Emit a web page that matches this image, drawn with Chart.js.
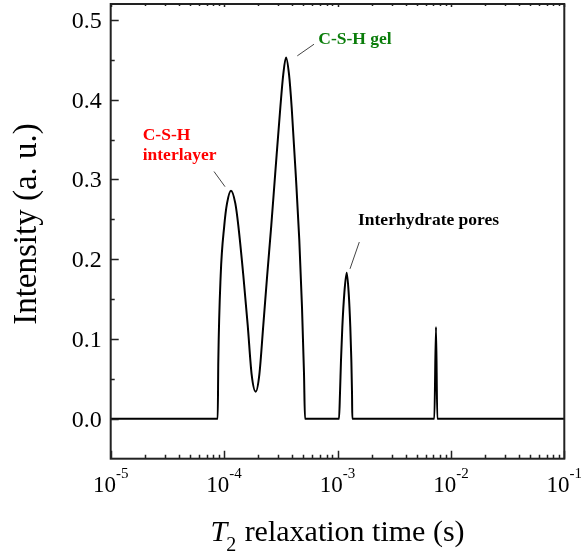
<!DOCTYPE html>
<html><head><meta charset="utf-8">
<script src="https://cdn.jsdelivr.net/npm/chart.js@4"></script>
<style>html,body{margin:0;padding:0;background:#fff}</style>
</head><body>
<canvas id="c" width="581" height="553" style="display:block;width:581px;height:553px"></canvas>
<script>
// T2 relaxation times (s) and intensities
const t2Values = [1e-5, 8.78e-5, 8.89e-5, 9.33e-5, 1.004e-4, 1.061e-4, 1.15e-4, 1.256e-4, 1.334e-4, 1.477e-4, 1.615e-4, 1.751e-4, 1.9e-4, 2.044e-4, 2.217e-4, 2.399e-4, 2.607e-4, 2.822e-4, 3.131e-4, 3.327e-4, 3.515e-4, 3.735e-4, 3.946e-4, 4.28e-4, 4.604e-4, 4.863e-4, 5.065e-4, 5.169e-4, 1.031e-3, 1.052e-3, 1.074e-3, 1.103e-3, 1.148e-3, 1.205e-3, 1.256e-3, 1.297e-3, 1.324e-3, 1.343e-3, 1.351e-3, 7.14e-3, 7.39e-3, 7.59e-3, 1e-1];
const intensity = [0, 0, 0.072, 0.18, 0.2425, 0.27, 0.286, 0.27, 0.2425, 0.18, 0.1175, 0.055, 0.034, 0.055, 0.1175, 0.18, 0.2425, 0.307, 0.39, 0.432, 0.453, 0.432, 0.39, 0.307, 0.224, 0.14, 0.057, 0, 0, 0.032, 0.074, 0.115, 0.157, 0.183, 0.157, 0.115, 0.074, 0.032, 0, 0, 0.115, 0, 0];

const xTickValues = [1e-5, 1e-4, 1e-3, 1e-2, 1e-1];
const xTickExponents = ['-5', '-4', '-3', '-2', '-1'];
const yTickValues = [0, 0.1, 0.2, 0.3, 0.4, 0.5];
const yTickLabels = ['0.0', '0.1', '0.2', '0.3', '0.4', '0.5'];
const yMinorValues = [0.05, 0.15, 0.25, 0.35, 0.45];

const annotationTexts = [
  { lines: ['C-S-H', 'interlayer'], color: '#ff0000', x: 1.915e-5, y: 0.35 },
  { lines: ['C-S-H gel'], color: '#0a7d0a', x: 6.77e-4, y: 0.47 },
  { lines: ['Interhydrate pores'], color: '#000000', x: 1.516e-3, y: 0.2425 }
];
const leaderLines = [
  { x1: 8.15e-5, y1: 0.310, x2: 1.019e-4, y2: 0.291 },
  { x1: 6.21e-4, y1: 0.4696, x2: 4.42e-4, y2: 0.455 },
  { x1: 1.557e-3, y1: 0.2216, x2: 1.289e-3, y2: 0.188 }
];

const SERIF = '"Liberation Serif", "Times New Roman", serif';

const decoPlugin = {
  id: 'deco',
  afterDraw(chart) {
    const ctx = chart.ctx;
    const xs = chart.scales.x, ys = chart.scales.y;
    const a = chart.chartArea;
    ctx.save();
    // leader lines
    ctx.strokeStyle = '#444';
    ctx.lineWidth = 1;
    leaderLines.forEach(l => {
      ctx.beginPath();
      ctx.moveTo(xs.getPixelForValue(l.x1), ys.getPixelForValue(l.y1));
      ctx.lineTo(xs.getPixelForValue(l.x2), ys.getPixelForValue(l.y2));
      ctx.stroke();
    });
    // annotation texts
    ctx.font = 'bold 17.5px ' + SERIF;
    ctx.textAlign = 'left';
    ctx.textBaseline = 'alphabetic';
    annotationTexts.forEach(t => {
      ctx.fillStyle = t.color;
      const px = xs.getPixelForValue(t.x), py = ys.getPixelForValue(t.y);
      t.lines.forEach((s, i) => ctx.fillText(s, px, py + i * 20));
    });
    // frame
    ctx.strokeStyle = '#222';
    ctx.lineWidth = 2;
    ctx.strokeRect(a.left, a.top, a.right - a.left, a.bottom - a.top);
    // x ticks
    ctx.lineWidth = 1.5;
    ctx.beginPath();
    xTickValues.forEach((v, i) => {
      const px = Math.round(xs.getPixelForValue(v)) + 0.5;
      ctx.moveTo(px, a.bottom); ctx.lineTo(px, a.bottom - 8);
      ctx.moveTo(px, a.top); ctx.lineTo(px, a.top + 3);
      if (i < xTickValues.length - 1) {
        for (let m = 2; m <= 9; m++) {
          const mp = Math.round(xs.getPixelForValue(v * m)) + 0.5;
          ctx.moveTo(mp, a.bottom); ctx.lineTo(mp, a.bottom - 4);
          ctx.moveTo(mp, a.top); ctx.lineTo(mp, a.top + 2);
        }
      }
    });
    // y ticks
    yTickValues.forEach(v => {
      const py = Math.round(ys.getPixelForValue(v)) + 0.5;
      ctx.moveTo(a.left, py); ctx.lineTo(a.left + 8, py);
    });
    yMinorValues.forEach(v => {
      const py = Math.round(ys.getPixelForValue(v)) + 0.5;
      ctx.moveTo(a.left, py); ctx.lineTo(a.left + 4, py);
    });
    ctx.stroke();
    // y tick labels
    ctx.fillStyle = '#000';
    ctx.font = '24px ' + SERIF;
    ctx.textAlign = 'right';
    yTickValues.forEach((v, i) => {
      const py = ys.getPixelForValue(v);
      ctx.fillText(yTickLabels[i], a.left - 9, py + 8);
    });
    // x tick labels: 10 with superscript exponent
    ctx.textAlign = 'left';
    xTickValues.forEach((v, i) => {
      const px = xs.getPixelForValue(v);
      ctx.font = '23px ' + SERIF;
      const wb = ctx.measureText('10').width;
      ctx.font = '15px ' + SERIF;
      const we = ctx.measureText(xTickExponents[i]).width;
      const x0 = px - (wb + we) / 2;
      ctx.font = '23px ' + SERIF;
      ctx.fillText('10', x0, a.bottom + 33);
      ctx.font = '15px ' + SERIF;
      ctx.fillText(xTickExponents[i], x0 + wb, a.bottom + 19);
    });
    // x title: italic T, subscript 2, rest regular
    const cx = (a.left + a.right) / 2;
    const by = 540.7;
    ctx.font = 'italic 30px ' + SERIF;
    const wT = ctx.measureText('T').width;
    ctx.font = '20px ' + SERIF;
    const w2 = ctx.measureText('2').width;
    ctx.font = '30px ' + SERIF;
    const rest = ' relaxation time (s)';
    const wr = ctx.measureText(rest).width;
    let x0 = cx - (wT + w2 + wr) / 2;
    ctx.font = 'italic 30px ' + SERIF;
    ctx.fillText('T', x0, by);
    ctx.font = '20px ' + SERIF;
    ctx.fillText('2', x0 + wT - 1, by + 10);
    ctx.font = '30px ' + SERIF;
    ctx.fillText(rest, x0 + wT + w2, by);
    // y title
    ctx.translate(36, 224);
    ctx.rotate(-Math.PI / 2);
    ctx.textAlign = 'center';
    ctx.font = '33px ' + SERIF;
    ctx.fillText('Intensity (a. u.)', 0, 0);
    ctx.restore();
  }
};

new Chart(document.getElementById('c'), {
  type: 'line',
  data: {
    datasets: [{
      data: t2Values.map((x, i) => ({ x: x, y: intensity[i] })),
      borderColor: '#000',
      borderWidth: 2,
      pointRadius: 0,
      fill: false,
      cubicInterpolationMode: 'monotone'
    }]
  },
  options: {
    responsive: false,
    animation: false,
    layout: { padding: { top: 4, right: 16.7, left: 0, bottom: 0 } },
    plugins: { legend: { display: false }, tooltip: { enabled: false } },
    scales: {
      x: {
        type: 'logarithmic', min: 1e-5, max: 1e-1,
        grid: { display: false }, border: { display: false },
        ticks: { display: false },
        afterFit(s) { s.height = 94.3; }
      },
      y: {
        type: 'linear', min: -0.05, max: 0.52,
        grid: { display: false }, border: { display: false },
        ticks: { display: false },
        afterFit(s) { s.width = 110.7; }
      }
    }
  },
  plugins: [decoPlugin]
});
</script>
</body></html>
